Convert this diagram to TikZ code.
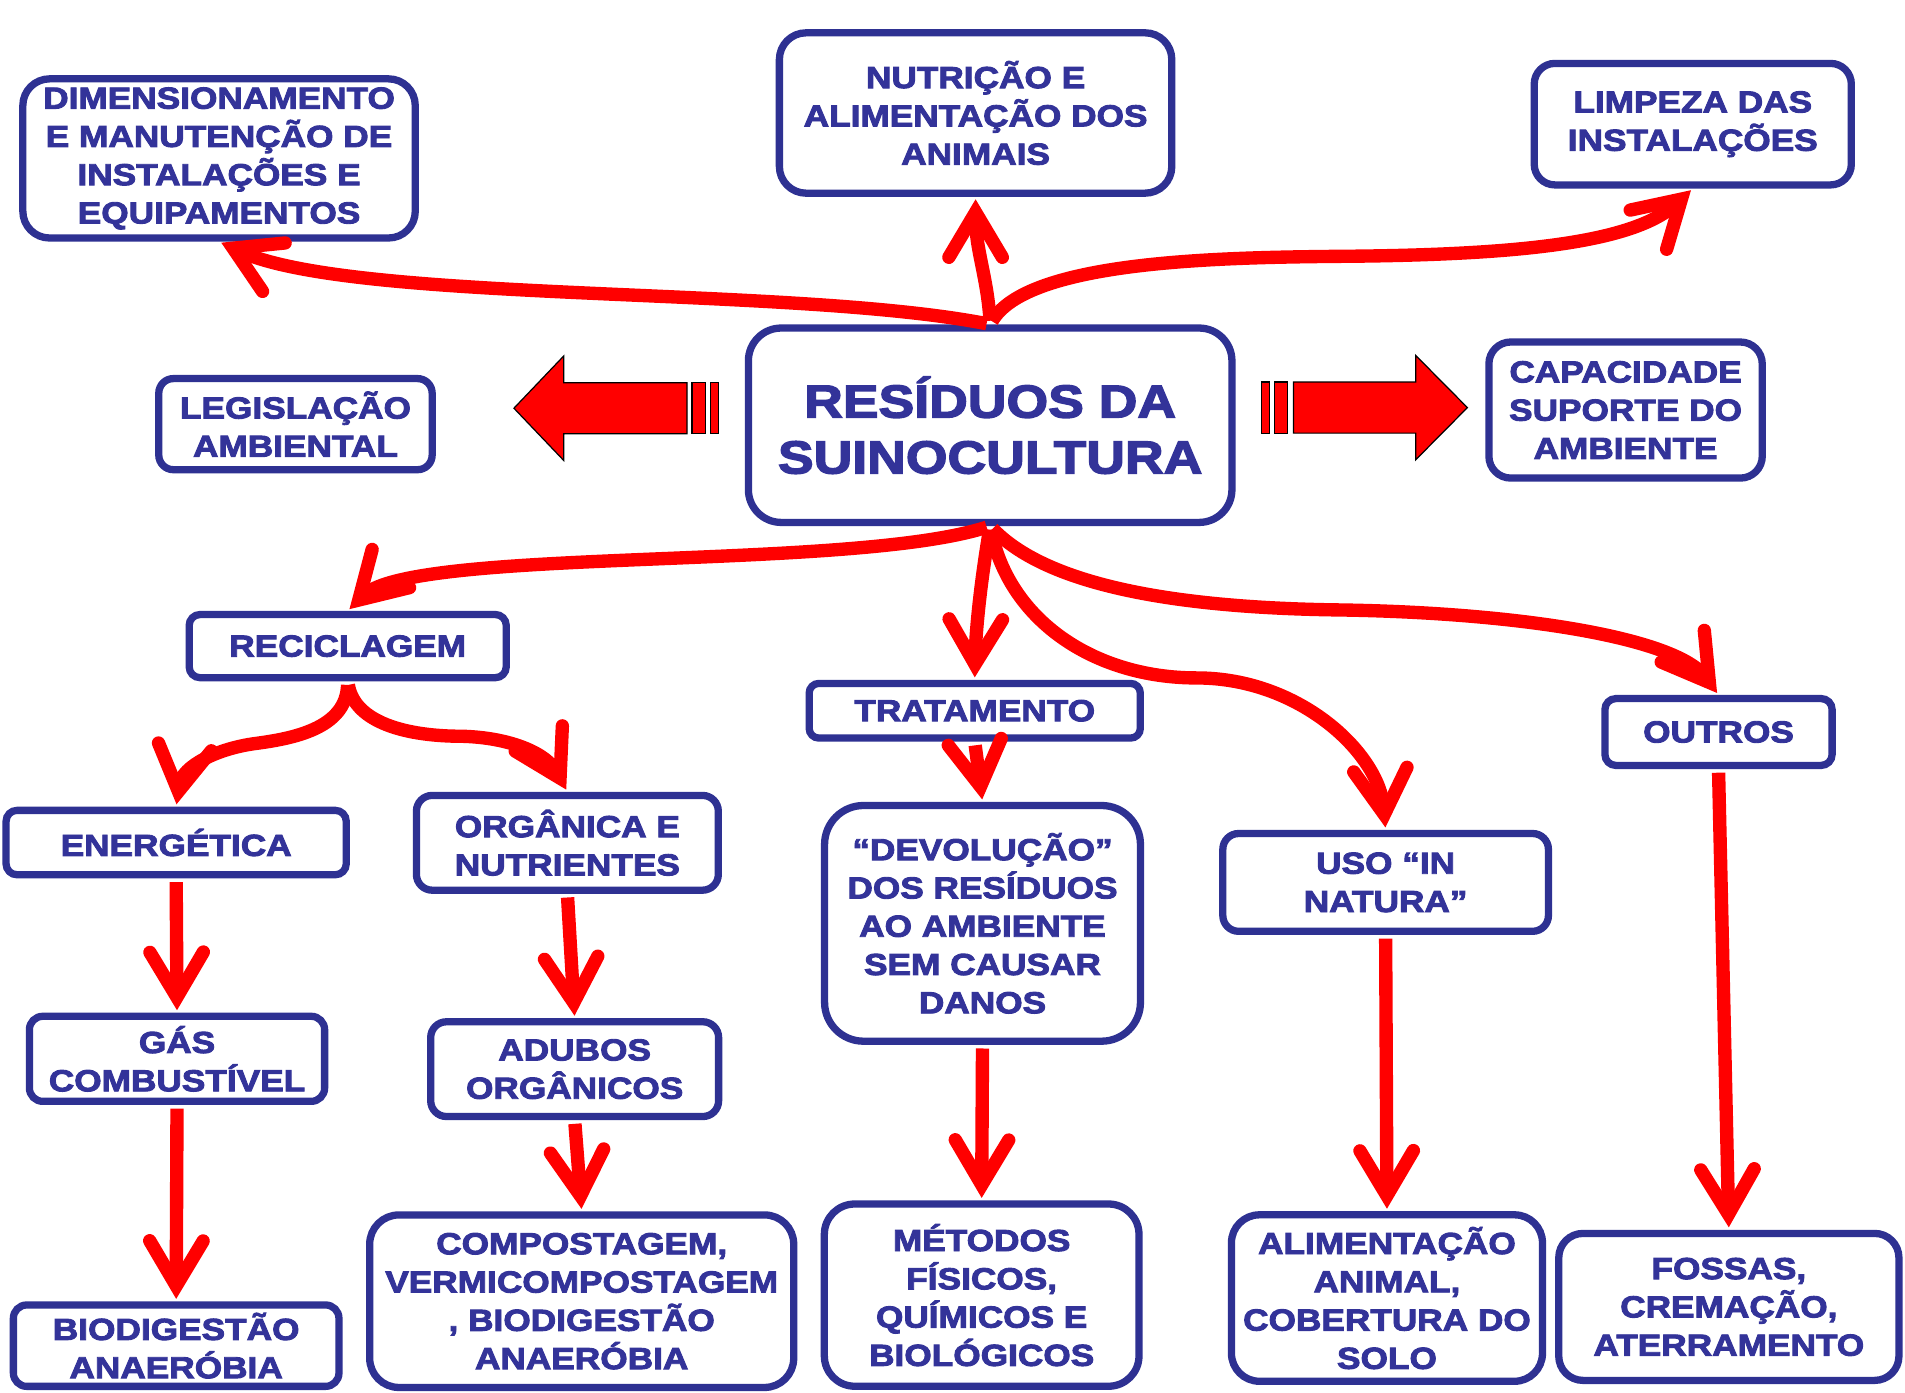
\documentclass[tikz,border=0pt]{standalone}
\usepackage{fontspec}
\usetikzlibrary{arrows.meta}
\newfontfamily\boxfont{Liberation Sans}[FakeStretch=1.16, FakeBold=3]
\definecolor{boxblue}{RGB}{46,49,146}
\definecolor{txtblue}{RGB}{51,51,153}

\tikzset{
    box/.style={draw=boxblue, line width=6pt, rounded corners=#1, fill=white, text=txtblue,
        align=center, inner sep=0pt, font=\boxfont\bfseries\fontsize{25pt}{31.5pt}\selectfont},
    box/.default=10pt,
    conn/.style={draw=red, line width=11pt, shorten <=3pt, shorten >=2pt,
        -{Straight Barb[length=37pt, width=44pt, line cap=round, line join=miter]}},
    blockarrow/.style={fill=red, draw=black, line width=1pt}
}

\begin{document}
\begin{tikzpicture}[x=1pt, y=-1pt]
    \path[use as bounding box, fill=white] (0,0) rectangle (1568,1146);

    % top row
    \node[box=22pt, minimum width=323pt, minimum height=131pt] (dim) at (180.3,130.4) {DIMENSIONAMENTO\\E MANUTENÇÃO DE\\INSTALAÇÕES E\\EQUIPAMENTOS};
    \node[box=22pt, minimum width=323pt, minimum height=132pt] (nut) at (803,93) {NUTRIÇÃO E\\ALIMENTAÇÃO DOS\\ANIMAIS};
    \node[box=17pt, minimum width=261pt, minimum height=100pt] (lim) at (1393.3,102.2) {LIMPEZA DAS\\INSTALAÇÕES};

    % middle row
    \node[box=12pt, minimum width=225pt, minimum height=75pt] (leg) at (243.2,349.1) {LEGISLAÇÃO\\AMBIENTAL};
    \node[box=27pt, minimum width=398pt, minimum height=160pt,
        font=\boxfont\bfseries\fontsize{38pt}{46pt}\selectfont] (res) at (815,350) {RESÍDUOS DA\\SUINOCULTURA};
    \node[box=18pt, minimum width=225pt, minimum height=112pt] (cap) at (1338,337.5) {CAPACIDADE\\SUPORTE DO\\AMBIENTE};

    % block arrows
    \draw[blockarrow] (423,336) -- (464,293) -- (464,315) -- (565.5,315) -- (565.5,357) -- (464,357) -- (464,379) -- cycle;
    \draw[blockarrow] (569.5,315) rectangle (580.6,357);
    \draw[blockarrow] (585,315) rectangle (591.4,357);
    \draw[blockarrow] (1207.8,335.5) -- (1165.2,292.5) -- (1165.2,314.5) -- (1064.7,314.5) -- (1064.7,356.5) -- (1165.2,356.5) -- (1165.2,378.5) -- cycle;
    \draw[blockarrow] (1048.8,314.5) rectangle (1060,356.5);
    \draw[blockarrow] (1038.2,314.5) rectangle (1044.7,356.5);

    % second level
    \node[box=9pt, minimum width=261pt, minimum height=52pt] (rec) at (286.2,531.8) {RECICLAGEM};
    \node[box=8pt, minimum width=272.6pt, minimum height=45pt] (trat) at (802.3,585) {TRATAMENTO};
    \node[box=9pt, minimum width=187pt, minimum height=55pt] (out) at (1414.5,602.5) {OUTROS};

    % third level
    \node[box=9pt, minimum width=280pt, minimum height=53pt] (ene) at (145,693.5) {ENERGÉTICA};
    \node[box=13pt, minimum width=248.5pt, minimum height=78pt] (org) at (467,693.7) {ORGÂNICA E\\NUTRIENTES};
    \node[box=32pt, minimum width=260pt, minimum height=194pt] (dev) at (808.7,760) {“DEVOLUÇÃO”\\DOS RESÍDUOS\\AO AMBIENTE\\SEM CAUSAR\\DANOS};
    \node[box=13pt, minimum width=268pt, minimum height=80.5pt] (uso) at (1140.5,726.3) {USO “IN\\NATURA”};

    % fourth level
    \node[box=11pt, minimum width=243pt, minimum height=70pt] (gas) at (145.7,871.5) {GÁS\\COMBUSTÍVEL};
    \node[box=13pt, minimum width=237pt, minimum height=78pt] (adu) at (473,880) {ADUBOS\\ORGÂNICOS};

    % bottom row
    \node[box=11pt, minimum width=268pt, minimum height=67pt] (bio) at (145,1107.6) {BIODIGESTÃO\\ANAERÓBIA};
    \node[box=24pt, minimum width=349pt, minimum height=142pt] (comp) at (478.8,1071) {COMPOSTAGEM,\\VERMICOMPOSTAGEM\\, BIODIGESTÃO\\ANAERÓBIA};
    \node[box=25pt, minimum width=259pt, minimum height=150pt] (met) at (808,1066) {MÉTODOS\\FÍSICOS,\\QUÍMICOS E\\BIOLÓGICOS};
    \node[box=23pt, minimum width=256pt, minimum height=137pt] (ali) at (1141.6,1068.4) {ALIMENTAÇÃO\\ANIMAL,\\COBERTURA DO\\SOLO};
    \node[box=20pt, minimum width=280pt, minimum height=121pt] (fos) at (1423,1075.7) {FOSSAS,\\CREMAÇÃO,\\ATERRAMENTO};

    % connectors from the centre
    \draw[conn] (res.north) .. controls (650,235) and (290,250) .. (dim.south);
    \draw[conn] (res.north) .. controls (813,230) and (803,205) .. (nut.south);
    \draw[conn] (res.north) .. controls (845,215) and (1000,212) .. (1100,211) .. controls (1250,210) and (1345,200) .. (lim.south);
    \draw[conn] (res.south) .. controls (700,470) and (340,450) .. (rec.north);
    \draw[conn] (res.south) .. controls (807,480) and (803,520) .. (trat.north);
    \draw[conn] (res.south) .. controls (830,510) and (900,558) .. (985,558) .. controls (1070,558) and (1135,620) .. (uso.north);
    \draw[conn] (res.south) .. controls (860,480) and (960,500) .. (1100,502) .. controls (1250,504) and (1380,525) .. (out.north);

    % connectors below
    \draw[conn] (rec.south) .. controls (285,600) and (240,608) .. (210,612) .. controls (180,616) and (150,630) .. (ene.north);
    \draw[conn] (rec.south) .. controls (292,595) and (335,606) .. (380,606) .. controls (420,607) and (450,620) .. (org.north);
    \draw[conn] (ene.south) -- (gas.north);
    \draw[conn] (org.south) -- (adu.north);
    \draw[conn] (gas.south) -- (bio.north);
    \draw[conn] (adu.south) -- (comp.north);
    \draw[conn] (trat.south) -- (dev.north);
    \draw[conn] (dev.south) -- (met.north);
    \draw[conn] (uso.south) -- (ali.north);
    \draw[conn] (out.south) -- (fos.north);
\end{tikzpicture}
\end{document}
